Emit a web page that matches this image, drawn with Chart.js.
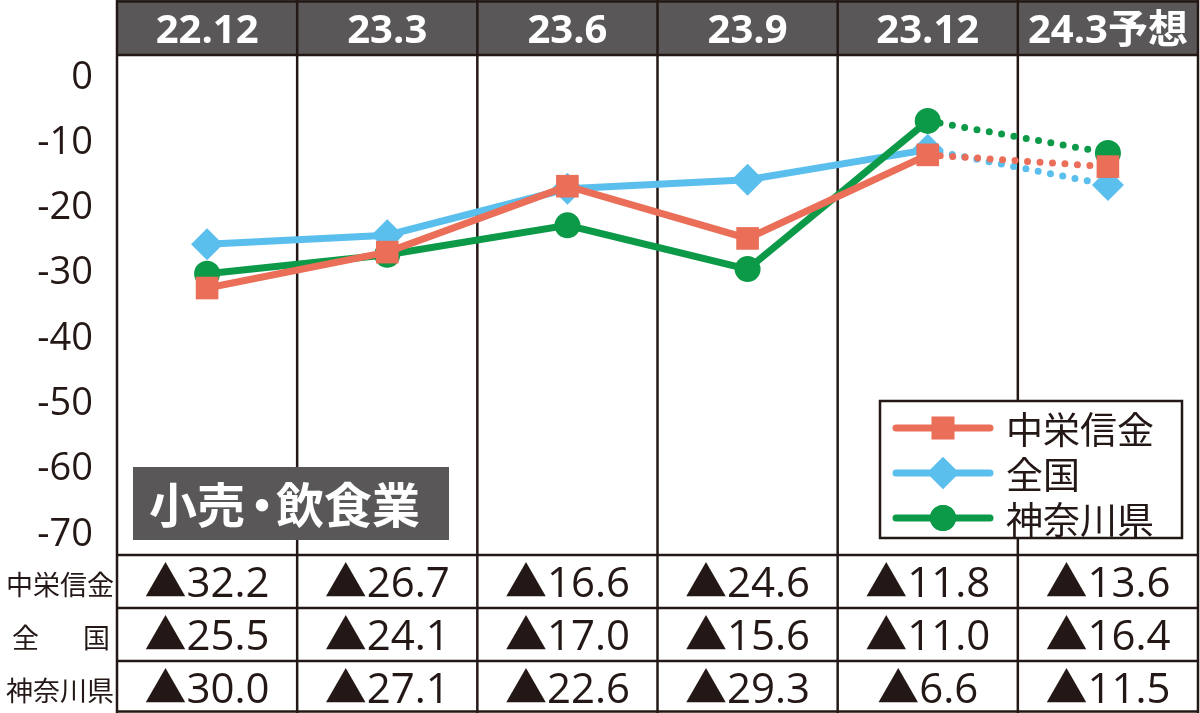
<!DOCTYPE html>
<html>
<head>
<meta charset="utf-8">
<script src="https://cdn.jsdelivr.net/npm/chart.js@4"></script>
<style>
  html, body { margin: 0; padding: 0; background: #fff; }
  #wrap { width: 1200px; height: 713px; }
</style>
</head>
<body>
<div id="wrap"><canvas id="graph"></canvas></div>
<script>
'use strict';

// 期間
const categories = ['22.12', '23.3', '23.6', '23.9', '23.12', '24.3予想'];
// 業況DI（▲はマイナス）
const chueiValues = [-32.2, -26.7, -16.6, -24.6, -11.8, -13.6];
const zenkokuValues = [-25.5, -24.1, -17.0, -15.6, -11.0, -16.4];
const kanagawaValues = [-30.0, -27.1, -22.6, -29.3, -6.6, -11.5];
const seriesNames = ['中栄信金', '全国', '神奈川県'];
const yTickValues = [0, -10, -20, -30, -40, -50, -60, -70];
const panelTitle = ['小売', '・', '飲食業'];

const DARK = '#231815';
const GRAY = '#595757';
const colors = ['#ea6e58', '#5bbfee', '#0c9a48'];
const pointStyles = ['rect', 'rectRot', 'circle'];
const pointSizes = [16, 16, 13];

// 最後の区間（予想）は点線
const dashLast = ctx => ctx.p1DataIndex === categories.length - 1 ? [0, 12.5] : undefined;

function makeDataset(i, values, order) {
    return {
        label: seriesNames[i],
        data: values,
        borderColor: colors[i],
        backgroundColor: colors[i],
        borderWidth: 7,
        borderCapStyle: 'round',
        pointStyle: pointStyles[i],
        pointRadius: pointSizes[i],
        pointHoverRadius: pointSizes[i],
        pointBorderWidth: 0,
        tension: 0,
        order: order,
        segment: { borderDash: dashLast }
    };
}

function colEdges(chart) {
    const x = chart.scales.x;
    const a = chart.chartArea;
    let edges = [a.left];
    for (let i = 0; i < categories.length - 1; i++) {
        edges.push((x.getPixelForValue(i) + x.getPixelForValue(i + 1)) / 2);
    }
    edges.push(a.right);
    return edges;
}

const framePlugin = {
    id: 'frame',
    beforeDatasetsDraw(chart) {
        const c = chart.ctx;
        const a = chart.chartArea;
        const edges = colEdges(chart);
        const x = chart.scales.x;
        c.save();
        // 見出し行
        c.fillStyle = GRAY;
        c.fillRect(a.left, 0, a.right - a.left, a.top);
        c.strokeStyle = DARK;
        c.lineWidth = 2.5;
        // 縦線
        edges.forEach(e => {
            c.beginPath();
            c.moveTo(e, 0);
            c.lineTo(e, 713);
            c.stroke();
        });
        // 横線
        [1.5, a.top, a.bottom, a.bottom + 53, a.bottom + 106, 711.5].forEach(y => {
            c.beginPath();
            c.moveTo(a.left, y);
            c.lineTo(a.right, y);
            c.stroke();
        });
        // 見出し文字
        c.fillStyle = '#fff';
        c.font = 'bold 40px "Open Sans", "Noto Sans CJK JP"';
        c.textAlign = 'center';
        c.textBaseline = 'alphabetic';
        categories.forEach((cat, i) => {
            c.fillText(cat, x.getPixelForValue(i), 43);
        });
        c.restore();
    },
    afterDatasetsDraw(chart) {
        const c = chart.ctx;
        c.save();
        // 業種ラベル
        c.fillStyle = GRAY;
        c.fillRect(133, 467, 316, 73);
        c.fillStyle = '#fff';
        c.font = 'bold 48px "Noto Sans CJK JP"';
        c.textBaseline = 'middle';
        c.textAlign = 'left';
        c.fillText(panelTitle[0], 149, 505);
        c.textAlign = 'center';
        c.fillText(panelTitle[1], 262, 505);
        c.textAlign = 'left';
        c.fillText(panelTitle[2], 276, 505);

        // 凡例
        c.fillStyle = '#fff';
        c.fillRect(880, 401, 302, 137);
        c.strokeStyle = DARK;
        c.lineWidth = 2.5;
        c.strokeRect(880, 401, 302, 137);
        const rowsY = [428, 473, 518];
        seriesNames.forEach((name, i) => {
            const y = rowsY[i];
            c.strokeStyle = colors[i];
            c.lineWidth = 7;
            c.lineCap = 'round';
            c.beginPath();
            c.moveTo(896, y);
            c.lineTo(990, y);
            c.stroke();
            c.fillStyle = colors[i];
            Chart.helpers.drawPoint(c, {
                pointStyle: pointStyles[i],
                rotation: 0,
                borderWidth: 0,
                radius: pointSizes[i]
            }, 943, y);
            c.fill();
            c.fillStyle = DARK;
            c.font = '37px "Noto Sans CJK JP"';
            c.textAlign = 'left';
            c.textBaseline = 'middle';
            c.fillText(name, 1006, y + 2);
        });
        c.restore();
    },
    afterDraw(chart) {
        const c = chart.ctx;
        const x = chart.scales.x;
        const a = chart.chartArea;
        const tableData = [chueiValues, zenkokuValues, kanagawaValues];
        c.save();
        c.fillStyle = DARK;
        tableData.forEach((vals, r) => {
            const base = a.bottom + 42 + r * 53;
            c.font = '42px "Open Sans", "Noto Sans CJK JP"';
            c.textAlign = 'center';
            c.textBaseline = 'alphabetic';
            vals.forEach((v, i) => {
                c.fillText('▲' + Math.abs(v).toFixed(1), x.getPixelForValue(i), base);
            });
            // 行見出し
            c.font = '27px "Noto Sans CJK JP"';
            if (seriesNames[r].length === 2) {
                c.textAlign = 'left';
                c.fillText(seriesNames[r][0], 12, base - 2);
                c.textAlign = 'right';
                c.fillText(seriesNames[r][1], 110, base - 2);
            } else {
                c.textAlign = 'left';
                c.fillText(seriesNames[r], 6, base - 2);
            }
        });
        c.restore();
    }
};

new Chart(document.getElementById('graph'), {
    type: 'line',
    data: {
        labels: categories,
        datasets: [
            makeDataset(0, chueiValues, 0),
            makeDataset(1, zenkokuValues, 2),
            makeDataset(2, kanagawaValues, 1)
        ]
    },
    options: {
        responsive: true,
        maintainAspectRatio: false,
        animation: false,
        layout: { autoPadding: false, padding: { top: 55, bottom: 158, left: 0, right: 2 } },
        plugins: {
            legend: { display: false },
            tooltip: { enabled: false }
        },
        scales: {
            x: {
                type: 'category',
                offset: true,
                display: false
            },
            y: {
                min: -73.1,
                max: 3.5,
                grid: { display: false },
                border: { display: false },
                afterBuildTicks: s => { s.ticks = yTickValues.map(v => ({ value: v })); },
                afterFit: s => { s.width = 117; s.paddingTop = 0; s.paddingBottom = 0; },
                ticks: {
                    padding: 16,
                    color: DARK,
                    font: { family: '"Open Sans"', size: 38 }
                }
            }
        }
    },
    plugins: [framePlugin]
});
</script>
</body>
</html>
